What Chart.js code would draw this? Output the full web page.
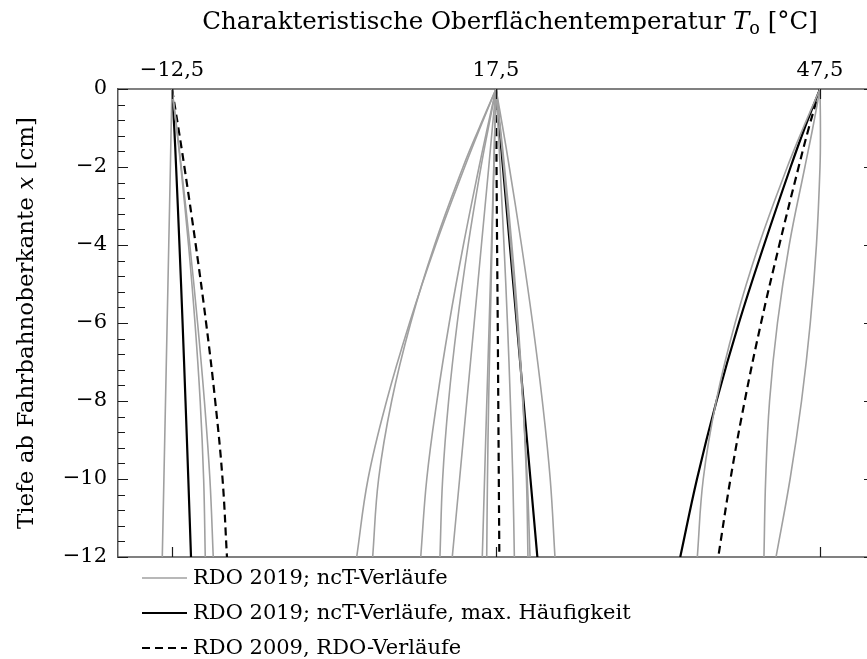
<!DOCTYPE html>
<html>
<head>
<meta charset="utf-8">
<style>
  html, body { margin: 0; padding: 0; background: #fff; overflow: hidden; }
  #wrap { width: 880px; height: 659px; }
</style>
<script src="https://cdn.jsdelivr.net/npm/chart.js@4.4.1/dist/chart.umd.min.js"></script>
</head>
<body>
<div id="wrap"><canvas id="chart" width="880" height="659"></canvas></div>
<script>
const DEPTHS = [0, -1, -2, -4, -6, -8, -10, -12];
// Achsenbeschriftungen
const T_TICKS = [-12.5, 17.5, 47.5];
const DEPTH_TICKS = [0, -2, -4, -6, -8, -10, -12];

// Temperaturen (°C) je Tiefe, Oberflächentemperatur -12,5 °C
const ncT_m12 = [
  [-12.5, -12.58, -12.65, -12.80, -12.95, -13.10, -13.25, -13.40],
  [-12.5, -12.08, -11.68, -10.97, -10.37, -9.89, -9.57, -9.42],
  [-12.5, -12.06, -11.64, -10.85, -10.13, -9.50, -8.99, -8.68]
];
const max_m12 = [-12.5, -12.29, -12.12, -11.81, -11.52, -11.25, -10.99, -10.74];
const rdo_m12 = [-12.5, -11.91, -11.35, -10.30, -9.34, -8.50, -7.82, -7.41];

// Oberflächentemperatur 17,5 °C
const ncT_175 = [
  [17.5, 16.02, 14.60, 11.91, 9.49, 7.37, 5.65, 4.60],
  [17.5, 15.94, 14.45, 11.81, 9.60, 7.84, 6.63, 6.08],
  [17.5, 16.70, 15.93, 14.48, 13.17, 12.03, 11.09, 10.53],
  [17.5, 16.79, 16.11, 14.92, 13.91, 13.11, 12.56, 12.31],
  [17.5, 17.16, 16.83, 16.15, 15.48, 14.80, 14.13, 13.45],
  [17.5, 17.39, 17.29, 17.08, 16.87, 16.65, 16.44, 16.23],
  [17.5, 17.40, 17.31, 17.13, 16.97, 16.82, 16.71, 16.64],
  [17.5, 17.70, 17.88, 18.24, 18.56, 18.83, 19.06, 19.20],
  [17.5, 17.91, 18.29, 18.97, 19.55, 20.00, 20.32, 20.46],
  [17.5, 17.86, 18.21, 18.86, 19.46, 19.97, 20.39, 20.65],
  [17.5, 18.13, 18.73, 19.86, 20.89, 21.79, 22.52, 22.96]
];
const max_175 = [17.5, 17.82, 18.14, 18.78, 19.42, 20.05, 20.69, 21.33];
const rdo_175 = [17.5, 17.53, 17.55, 17.60, 17.66, 17.71, 17.76, 17.81];

// Oberflächentemperatur 47,5 °C
const ncT_475 = [
  [47.5, 45.94, 44.47, 41.84, 39.64, 37.89, 36.69, 36.14],
  [47.5, 46.83, 46.10, 44.65, 43.56, 42.83, 42.47, 42.31],
  [47.5, 47.54, 47.50, 47.17, 46.60, 45.79, 44.73, 43.43]
];
const max_475 = [47.5, 46.08, 44.78, 42.32, 39.99, 37.92, 36.11, 34.56];
const rdo_475 = [47.5, 46.46, 45.52, 43.73, 42.04, 40.53, 39.21, 38.08];

const LABEL_NCT = 'RDO 2019; ncT-Verläufe';
const LABEL_MAX = 'RDO 2019; ncT-Verläufe, max. Häufigkeit';
const LABEL_RDO = 'RDO 2009, RDO-Verläufe';

const FONT = '"DejaVu Serif", "Liberation Serif", serif';
const STYLE_NCT = { borderColor: '#a0a0a0', borderWidth: 1.6 };
const STYLE_MAX = { borderColor: '#000000', borderWidth: 2.2 };
const STYLE_RDO = { borderColor: '#000000', borderWidth: 2.2, borderDash: [8, 5] };

const toPoints = temps => DEPTHS.map((d, i) => ({ x: temps[i], y: d }));
const common = { pointRadius: 0, pointHoverRadius: 0, fill: false, tension: 0.4 };

const datasets = [];
[ncT_m12, ncT_175, ncT_475].forEach(group =>
  group.forEach(t => datasets.push({ label: LABEL_NCT, data: toPoints(t), ...STYLE_NCT, ...common })));
[max_m12, max_175, max_475].forEach(t =>
  datasets.push({ label: LABEL_MAX, data: toPoints(t), ...STYLE_MAX, ...common }));
[rdo_m12, rdo_175, rdo_475].forEach(t =>
  datasets.push({ label: LABEL_RDO, data: toPoints(t), ...STYLE_RDO, ...common }));

const fmt = v => (v < 0 ? '\u2212' : '') + String(Math.abs(v)).replace('.', ',');

// draws a run of text parts (plain / italic / subscript) starting at x
function drawParts(ctx, parts, x, y, size) {
  let cx = x;
  parts.forEach(p => {
    const s = p.sub ? size * 0.72 : size;
    ctx.font = (p.italic ? 'italic ' : '') + s + 'px ' + FONT;
    ctx.fillText(p.t, cx, y + (p.sub ? size * 0.22 : 0));
    cx += ctx.measureText(p.t).width;
  });
}
function partsWidth(ctx, parts, size) {
  let w = 0;
  parts.forEach(p => {
    const s = p.sub ? size * 0.72 : size;
    ctx.font = (p.italic ? 'italic ' : '') + s + 'px ' + FONT;
    w += ctx.measureText(p.t).width;
  });
  return w;
}

const TITLE_X = [
  { t: 'Charakteristische Oberflächentemperatur ' },
  { t: 'T', italic: true },
  { t: 'o', sub: true },
  { t: ' [°C]' }
];
const TITLE_Y = [
  { t: 'Tiefe ab Fahrbahnoberkante ' },
  { t: 'x', italic: true },
  { t: ' [cm]' }
];

const decorations = {
  id: 'decorations',
  afterDraw(chart) {
    const { ctx, chartArea: a, scales } = chart;
    const x = scales.x, y = scales.y;
    ctx.save();

    // inward ticks on the left: major every 2 cm, minor every 0.4 cm
    ctx.strokeStyle = '#1a1a1a';
    ctx.lineWidth = 1.2;
    ctx.beginPath();
    for (let i = 0; i <= 30; i++) {
      const v = -i * 0.4;
      const py = Math.round(y.getPixelForValue(v)) + 0.5;
      const len = i % 5 === 0 ? 10 : 7;
      ctx.moveTo(a.left, py); ctx.lineTo(a.left + len, py);
    }
    // inward ticks on the right, major only
    DEPTH_TICKS.forEach(v => {
      const py = Math.round(y.getPixelForValue(v)) + 0.5;
      ctx.moveTo(a.right, py); ctx.lineTo(a.right - 10, py);
    });
    // inward ticks at the temperature positions, top and bottom
    T_TICKS.forEach(v => {
      const px = Math.round(x.getPixelForValue(v)) + 0.5;
      ctx.moveTo(px, a.bottom); ctx.lineTo(px, a.bottom - 10);
      ctx.moveTo(px, a.top); ctx.lineTo(px, a.top + 10);
    });
    ctx.stroke();

    // axis titles
    ctx.fillStyle = '#000';
    ctx.textBaseline = 'alphabetic';
    ctx.textAlign = 'left';
    const tx = 24.5;
    const wx = partsWidth(ctx, TITLE_X, tx);
    drawParts(ctx, TITLE_X, (a.left + a.right) / 2 + 14 - wx / 2, 29, tx);

    const ty = 23;
    const wy = partsWidth(ctx, TITLE_Y, ty);
    ctx.save();
    ctx.translate(33, (a.top + a.bottom) / 2);
    ctx.rotate(-Math.PI / 2);
    drawParts(ctx, TITLE_Y, -wy / 2, 0, ty);
    ctx.restore();

    // legend below the plot, one entry per row
    const items = [
      { label: LABEL_NCT, style: STYLE_NCT },
      { label: LABEL_MAX, style: STYLE_MAX },
      { label: LABEL_RDO, style: STYLE_RDO }
    ];
    ctx.font = '21px ' + FONT;
    ctx.textBaseline = 'middle';
    items.forEach((it, i) => {
      const ly = a.bottom + 21 + i * 35;
      ctx.beginPath();
      ctx.strokeStyle = it.style.borderColor;
      ctx.lineWidth = it.style.borderWidth;
      ctx.setLineDash(it.style.borderDash || []);
      ctx.moveTo(a.left + 24, ly);
      ctx.lineTo(a.left + 69, ly);
      ctx.stroke();
      ctx.setLineDash([]);
      ctx.fillText(it.label, a.left + 75, ly + 1);
    });
    ctx.restore();
  }
};

new Chart(document.getElementById('chart'), {
  type: 'line',
  data: { datasets },
  options: {
    indexAxis: 'y',
    responsive: false,
    animation: false,
    devicePixelRatio: 1,
    layout: { padding: { left: 0, top: 0, right: 6, bottom: 102 } },
    plugins: { legend: { display: false }, tooltip: { enabled: false } },
    scales: {
      x: {
        type: 'linear', position: 'top', min: -17.5, max: 52.5,
        afterBuildTicks: s => { s.ticks = T_TICKS.map(v => ({ value: v })); },
        afterFit: s => { s.height = 89; },
        ticks: { callback: v => fmt(v), font: { family: FONT, size: 21 }, color: '#000', padding: 6, maxRotation: 0, autoSkip: false },
        grid: { display: false, drawTicks: false },
        border: { display: true, color: '#808080', width: 2 }
      },
      xb: {
        type: 'linear', position: 'bottom', min: -17.5, max: 52.5,
        afterFit: s => { s.height = 0; },
        ticks: { display: false },
        grid: { display: false, drawTicks: false },
        border: { display: true, color: '#808080', width: 2 }
      },
      y: {
        type: 'linear', position: 'left', min: -12, max: 0,
        afterBuildTicks: s => { s.ticks = DEPTH_TICKS.map(v => ({ value: v })); },
        afterFit: s => { s.width = 118; },
        ticks: { callback: v => fmt(v), font: { family: FONT, size: 21 }, color: '#000', padding: 11, autoSkip: false },
        grid: { display: false, drawTicks: false },
        border: { display: true, color: '#555555', width: 1.5 }
      }
    }
  },
  plugins: [decorations]
});
</script>
</body>
</html>
